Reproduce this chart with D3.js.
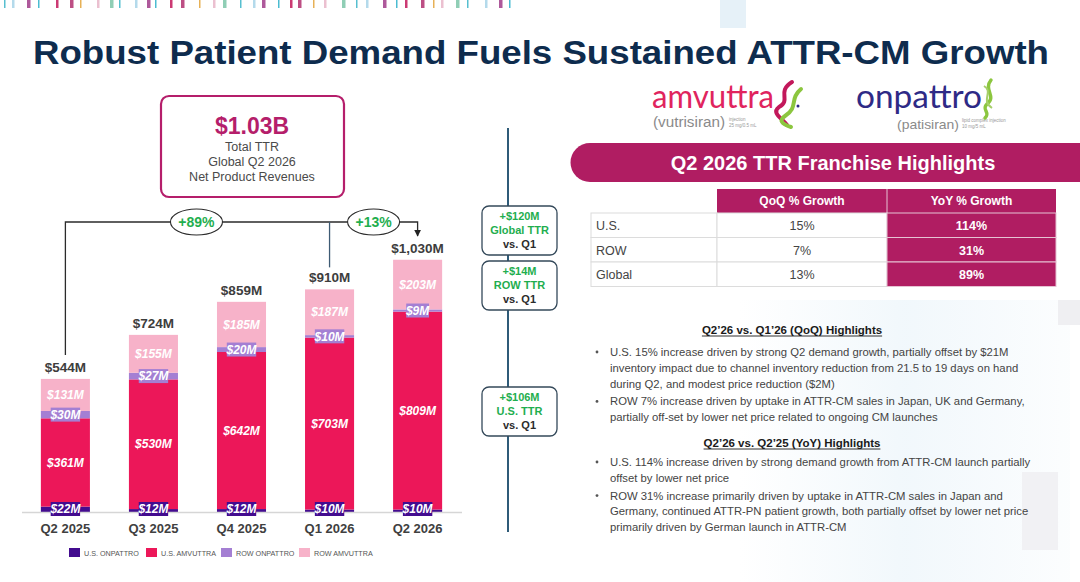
<!DOCTYPE html>
<html>
<head>
<meta charset="utf-8">
<script src="https://cdn.jsdelivr.net/npm/d3@7"></script>
<style>
  body { margin: 0; background: #fff; }
  svg { font-family: "Liberation Sans", Arial, sans-serif; }
</style>
</head>
<body>
<div id="chart"></div>
<script>
// quarterly data ($M)
var quarters = ["Q2 2025", "Q3 2025", "Q4 2025", "Q1 2026", "Q2 2026"];
var usOnpattro = [22, 12, 12, 10, 10];
var usAmvuttra = [361, 530, 642, 703, 809];
var rowOnpattro = [30, 27, 20, 10, 9];
var rowAmvuttra = [131, 155, 185, 187, 203];
var totals = [544, 724, 859, 910, 1030];
var totalLabels = ["$544M", "$724M", "$859M", "$910M", "$1,030M"];
var seriesNames = ["U.S. ONPATTRO", "U.S. AMVUTTRA", "ROW ONPATTRO", "ROW AMVUTTRA"];
var seriesColors = ["#430c8f", "#ec1759", "#a47fd3", "#f7b2c9"];

// growth table
var tableRows = ["U.S.", "ROW", "Global"];
var qoqGrowth = ["15%", "7%", "13%"];
var yoyGrowth = ["114%", "31%", "89%"];

// bullets
var qoqBullets = [
  ["U.S. 15% increase driven by strong Q2 demand growth, partially offset by $21M",
   "inventory impact due to channel inventory reduction from 21.5 to 19 days on hand",
   "during Q2, and modest price reduction ($2M)"],
  ["ROW 7% increase driven by uptake in ATTR-CM sales in Japan, UK and Germany,",
   "partially off-set by lower net price related to ongoing CM launches"]
];
var yoyBullets = [
  ["U.S. 114% increase driven by strong demand growth from ATTR-CM launch partially",
   "offset by lower net price"],
  ["ROW 31% increase primarily driven by uptake in ATTR-CM sales in Japan and",
   "Germany, continued ATTR-PN patient growth, both partially offset by lower net price",
   "primarily driven by German launch in ATTR-CM"]
];

var W = 1080, H = 582;
var svg = d3.select("#chart").append("svg")
  .attr("width", W).attr("height", H);

// faint background panels on the right
var grad = svg.append("defs").append("linearGradient").attr("id", "fade")
  .attr("x1", 0).attr("x2", 1).attr("y1", 0).attr("y2", 0);
grad.append("stop").attr("offset", 0).attr("stop-color", "#eef6fb").attr("stop-opacity", 0);
grad.append("stop").attr("offset", 0.5).attr("stop-color", "#eef6fb").attr("stop-opacity", 0.8);
grad.append("stop").attr("offset", 1).attr("stop-color", "#eef6fb").attr("stop-opacity", 0.2);
var bg = svg.append("g");
bg.append("rect").attr("x", 720).attr("y", 0).attr("width", 26).attr("height", 28).attr("fill", "#e6f1f8");
bg.append("rect").attr("x", 740).attr("y", 300).attr("width", 330).attr("height", 282).attr("fill", "url(#fade)");
bg.append("rect").attr("x", 1058).attr("y", 300).attr("width", 22).attr("height", 25).attr("fill", "#efeff2");
bg.append("rect").attr("x", 1022).attr("y", 472).attr("width", 36).attr("height", 78).attr("fill", "#f1f1f4");

// decorative stripe at top
var stripeCols = ["#39b4c8", "#a03c8a", "#c2185b", "#e3a33a", "#7cc6a8", "#a7d3e8", "#2bb0c9", "#b1306e", "#e7b5c8"];
var sx = 4;
for (var i = 0; i < 40; i++) {
  svg.append("rect").attr("x", sx).attr("y", 0).attr("width", (i % 3) + 1.5).attr("height", 8)
    .attr("fill", stripeCols[(i * 5) % stripeCols.length]).attr("opacity", 0.85);
  sx += 8 + (i * 7) % 11;
  if (sx > 540) break;
}

// title
svg.append("text").attr("x", 541).attr("y", 64).attr("text-anchor", "middle")
  .attr("font-size", 34).attr("font-weight", "bold").attr("fill", "#0e2c4e")
  .attr("textLength", 1016).attr("lengthAdjust", "spacingAndGlyphs")
  .text("Robust Patient Demand Fuels Sustained ATTR-CM Growth");

// ---------- stacked bar chart ----------
var x = d3.scaleBand().domain(quarters).range([21.5, 461.5]).paddingInner(0.443).paddingOuter(0.22);
var y = d3.scaleLinear().domain([0, d3.max(totals)]).range([512, 260]);

var rows = quarters.map(function(q, i) {
  return { q: q, usOn: usOnpattro[i], usAm: usAmvuttra[i], rowOn: rowOnpattro[i], rowAm: rowAmvuttra[i] };
});
var keys = ["usOn", "usAm", "rowOn", "rowAm"];
var stacked = d3.stack().keys(keys)(rows);

var chart = svg.append("g");
chart.selectAll("g.layer").data(stacked).enter().append("g")
  .attr("fill", function(d, i) { return seriesColors[i]; })
  .selectAll("rect").data(function(d) { return d; }).enter().append("rect")
  .attr("x", function(d) { return x(d.data.q); })
  .attr("width", x.bandwidth())
  .attr("y", function(d) { return y(d[1]); })
  .attr("height", function(d) { return y(d[0]) - y(d[1]); });

// axis line + category labels
var xAxis = chart.append("g").attr("transform", "translate(0,512)")
  .call(d3.axisBottom(x).tickSize(0).tickPadding(12));
xAxis.select(".domain").attr("stroke", "#d6d6d6").attr("stroke-width", 1.5);
xAxis.selectAll("text").attr("font-size", 13).attr("font-weight", "bold").attr("fill", "#404040")
  .attr("font-family", "Liberation Sans, Arial, sans-serif");

// segment labels
stacked.forEach(function(layer, li) {
  layer.forEach(function(d) {
    var cx = x(d.data.q) + x.bandwidth() / 2;
    var val = d[1] - d[0];
    var cy = (y(d[0]) + y(d[1])) / 2;
    var txt = "$" + val + "M";
    var g = chart.append("g");
    if (li === 0 || li === 2) {
      if (li === 0) cy = y(0) - 3;
      var bw = txt.length * 6.6 + 3;
      g.append("rect").attr("x", cx - bw / 2).attr("y", cy - 7).attr("width", bw).attr("height", 14)
        .attr("fill", seriesColors[li]);
    }
    g.append("text").attr("x", cx).attr("y", cy + 4.2).attr("text-anchor", "middle")
      .attr("font-size", 12).attr("font-weight", "bold").attr("font-style", "italic")
      .attr("fill", "#fff").text(txt);
  });
});

// totals
chart.selectAll("text.total").data(totals).enter().append("text")
  .attr("x", function(d, i) { return x(quarters[i]) + x.bandwidth() / 2; })
  .attr("y", function(d) { return y(d) - 7; })
  .attr("text-anchor", "middle").attr("font-size", 13.5).attr("font-weight", "bold").attr("fill", "#3d3d3d")
  .text(function(d, i) { return totalLabels[i]; });

// growth brackets
var bracketY = 222;
var cFirst = x(quarters[0]) + x.bandwidth() / 2;
var cPrev = x(quarters[3]) + x.bandwidth() / 2;
var cLast = x(quarters[4]) + x.bandwidth() / 2;
svg.select("defs").append("marker").attr("id", "arr").attr("viewBox", "0 0 10 10")
  .attr("refX", 9).attr("refY", 5).attr("markerWidth", 7).attr("markerHeight", 7).attr("orient", "auto")
  .attr("markerUnits", "userSpaceOnUse")
  .append("path").attr("d", "M0,0 L10,5 L0,10 Z").attr("fill", "#222");
chart.append("path")
  .attr("d", "M" + cFirst + "," + (y(totals[0]) - 24) + " V" + bracketY + " H" + cLast + " V" + (y(totals[4]) - 24))
  .attr("fill", "none").attr("stroke", "#2b2b2b").attr("stroke-width", 1.3).attr("marker-end", "url(#arr)");
chart.append("line").attr("x1", cPrev).attr("x2", cPrev).attr("y1", bracketY).attr("y2", y(totals[3]) - 22)
  .attr("stroke", "#3e5b74").attr("stroke-width", 1.3);

var bubbles = [{ x: (cFirst + cPrev) / 2 - 1, t: "+89%" }, { x: (cPrev + cLast) / 2, t: "+13%" }];
bubbles.forEach(function(b) {
  chart.append("ellipse").attr("cx", b.x).attr("cy", bracketY).attr("rx", 26).attr("ry", 13)
    .attr("fill", "#fff").attr("stroke", "#2b2b2b").attr("stroke-width", 1.1);
  chart.append("text").attr("x", b.x).attr("y", bracketY + 5).attr("text-anchor", "middle")
    .attr("font-size", 14).attr("font-weight", "bold").attr("fill", "#1fae4f").text(b.t);
});

// headline box
svg.append("rect").attr("x", 161).attr("y", 96).attr("width", 183).attr("height", 101).attr("rx", 8)
  .attr("fill", "#fff").attr("stroke", "#b51e6b").attr("stroke-width", 2.2);
svg.append("text").attr("x", 252).attr("y", 134).attr("text-anchor", "middle")
  .attr("font-size", 23).attr("font-weight", "bold").attr("fill", "#b51e6b").text("$1.03B");
["Total TTR", "Global Q2 2026", "Net Product Revenues"].forEach(function(t, i) {
  svg.append("text").attr("x", 252).attr("y", 151 + i * 15).attr("text-anchor", "middle")
    .attr("font-size", 12.5).attr("fill", "#4a4a4a").text(t);
});

// right divider line and delta boxes
svg.append("line").attr("x1", 508).attr("x2", 508).attr("y1", 128).attr("y2", 532)
  .attr("stroke", "#2f5b78").attr("stroke-width", 2);
var deltaBoxes = [
  { y: 206, a: "+$120M", b: "Global TTR" },
  { y: 261, a: "+$14M", b: "ROW TTR" },
  { y: 387, a: "+$106M", b: "U.S. TTR" }
];
deltaBoxes.forEach(function(d) {
  svg.append("rect").attr("x", 482).attr("y", d.y).attr("width", 75).attr("height", 49).attr("rx", 7)
    .attr("fill", "#fff").attr("stroke", "#34495a").attr("stroke-width", 1.3);
  svg.append("text").attr("x", 519.5).attr("y", d.y + 14).attr("text-anchor", "middle")
    .attr("font-size", 11).attr("font-weight", "bold").attr("fill", "#1fae4f").text(d.a);
  svg.append("text").attr("x", 519.5).attr("y", d.y + 28).attr("text-anchor", "middle")
    .attr("font-size", 11).attr("font-weight", "bold").attr("fill", "#1fae4f").text(d.b);
  svg.append("text").attr("x", 519.5).attr("y", d.y + 42).attr("text-anchor", "middle")
    .attr("font-size", 11).attr("font-weight", "bold").attr("fill", "#2b2b2b").text("vs. Q1");
});

// legend
var legend = svg.append("g");
var legX = [69, 146, 221, 299];
seriesNames.forEach(function(n, i) {
  legend.append("rect").attr("x", legX[i]).attr("y", 548).attr("width", 11).attr("height", 9).attr("fill", seriesColors[i]);
  legend.append("text").attr("x", legX[i] + 15).attr("y", 556).attr("font-size", 7.2).attr("fill", "#555").text(n);
});

// ---------- right panel ----------
// logos
svg.append("text").attr("x", 652).attr("y", 108).attr("font-family", "Lato, 'Noto Sans', sans-serif")
  .attr("font-size", 33).attr("fill", "#e0245e").attr("textLength", 122).attr("lengthAdjust", "spacingAndGlyphs").text("amvuttra");
svg.append("text").attr("x", 653).attr("y", 127).attr("font-size", 14).attr("fill", "#8a8a8a")
  .attr("textLength", 72).attr("lengthAdjust", "spacingAndGlyphs").text("(vutrisiran)");
svg.append("text").attr("x", 729).attr("y", 121).attr("font-size", 4.5).attr("fill", "#999").text("injection");
svg.append("text").attr("x", 729).attr("y", 127).attr("font-size", 4.5).attr("fill", "#999").text("25 mg/0.5 mL");
svg.append("path").attr("d", "M792,82 C776,92 792,100 779,107 C771,113 782,118 787,125")
  .attr("fill", "none").attr("stroke", "#c2185b").attr("stroke-width", 4).attr("stroke-linecap", "round");
svg.append("path").attr("d", "M801,89 C789,99 799,107 785,116 C779,120 781,124 791,127")
  .attr("fill", "none").attr("stroke", "#8cc63f").attr("stroke-width", 4).attr("stroke-linecap", "round");
svg.append("circle").attr("cx", 798).attr("cy", 106).attr("r", 1.5).attr("fill", "#2e2a86");

svg.append("text").attr("x", 856).attr("y", 108).attr("font-family", "Lato, 'Noto Sans', sans-serif")
  .attr("font-size", 33).attr("fill", "#2e2a86").attr("textLength", 126).attr("lengthAdjust", "spacingAndGlyphs").text("onpattro");
svg.append("text").attr("x", 897).attr("y", 129).attr("font-size", 13).attr("fill", "#8a8a8a")
  .attr("textLength", 62).attr("lengthAdjust", "spacingAndGlyphs").text("(patisiran)");
svg.append("text").attr("x", 962).attr("y", 122).attr("font-size", 4.5).attr("fill", "#999").text("lipid complex injection");
svg.append("text").attr("x", 962).attr("y", 128).attr("font-size", 4.5).attr("fill", "#999").text("10 mg/5 mL");
svg.append("path").attr("d", "M991,80 C983,90 997,96 987,104 C981,110 991,112 985,118")
  .attr("fill", "none").attr("stroke", "#8cc63f").attr("stroke-width", 3.5).attr("stroke-linecap", "round");
svg.append("path").attr("d", "M984,86 C994,92 980,100 992,108")
  .attr("fill", "none").attr("stroke", "#a6cf6a").attr("stroke-width", 2);

// banner
svg.append("path").attr("d", "M590,143 H1080 V182 H590 A19.5,19.5 0 0 1 590,143 Z").attr("fill", "#b01d62");
svg.append("text").attr("x", 833).attr("y", 170).attr("text-anchor", "middle")
  .attr("font-size", 20).attr("font-weight", "bold").attr("fill", "#fff").text("Q2 2026 TTR Franchise Highlights");

// table
var colX = [591, 717, 887, 1056];
var headY = 189, rowH = 24.5;
svg.append("rect").attr("x", colX[1]).attr("y", headY).attr("width", colX[3] - colX[1]).attr("height", 24).attr("fill", "#b01d62");
svg.append("line").attr("x1", colX[2]).attr("x2", colX[2]).attr("y1", headY).attr("y2", headY + 24).attr("stroke", "#e6c3d3");
[["QoQ % Growth", colX[1], colX[2]], ["YoY % Growth", colX[2], colX[3]]].forEach(function(h) {
  svg.append("text").attr("x", (h[1] + h[2]) / 2).attr("y", headY + 16).attr("text-anchor", "middle")
    .attr("font-size", 12).attr("font-weight", "bold").attr("fill", "#fff").text(h[0]);
});
tableRows.forEach(function(r, i) {
  var ry = headY + 24 + i * rowH;
  svg.append("rect").attr("x", colX[0]).attr("y", ry).attr("width", colX[1] - colX[0]).attr("height", rowH)
    .attr("fill", "#fff").attr("stroke", "#dcdcdc");
  svg.append("rect").attr("x", colX[1]).attr("y", ry).attr("width", colX[2] - colX[1]).attr("height", rowH)
    .attr("fill", "#fff").attr("stroke", "#dcdcdc");
  svg.append("rect").attr("x", colX[2]).attr("y", ry).attr("width", colX[3] - colX[2]).attr("height", rowH)
    .attr("fill", "#b01d62").attr("stroke", "#e6c3d3");
  svg.append("text").attr("x", colX[0] + 5).attr("y", ry + 17).attr("font-size", 12.5).attr("fill", "#444").text(r);
  svg.append("text").attr("x", (colX[1] + colX[2]) / 2).attr("y", ry + 17).attr("text-anchor", "middle")
    .attr("font-size", 12.5).attr("fill", "#444").text(qoqGrowth[i]);
  svg.append("text").attr("x", (colX[2] + colX[3]) / 2).attr("y", ry + 17).attr("text-anchor", "middle")
    .attr("font-size", 12.5).attr("font-weight", "bold").attr("fill", "#fff").text(yoyGrowth[i]);
});

// highlights
function heading(t, cy) {
  var tx = svg.append("text").attr("x", 792).attr("y", cy).attr("text-anchor", "middle")
    .attr("font-size", 11.5).attr("font-weight", "bold").attr("fill", "#1a1a1a").text(t);
  var w = tx.node().getComputedTextLength();
  svg.append("line").attr("x1", 792 - w / 2).attr("x2", 792 + w / 2).attr("y1", cy + 2).attr("y2", cy + 2)
    .attr("stroke", "#1a1a1a").attr("stroke-width", 0.9);
}
function bullets(list, startY, gap) {
  var yy = startY;
  list.forEach(function(lines) {
    svg.append("circle").attr("cx", 597).attr("cy", yy - 4).attr("r", 1.4).attr("fill", "#555");
    lines.forEach(function(l) {
      svg.append("text").attr("x", 610).attr("y", yy).attr("font-size", 11.3).attr("fill", "#444").text(l);
      yy += 15.8;
    });
    yy += gap;
  });
}
heading("Q2\u201926 vs. Q1\u201926 (QoQ) Highlights", 334);
bullets(qoqBullets, 356, 2);
heading("Q2\u201926 vs. Q2\u201925 (YoY) Highlights", 447);
bullets(yoyBullets, 466, 2);
</script>
</body>
</html>
